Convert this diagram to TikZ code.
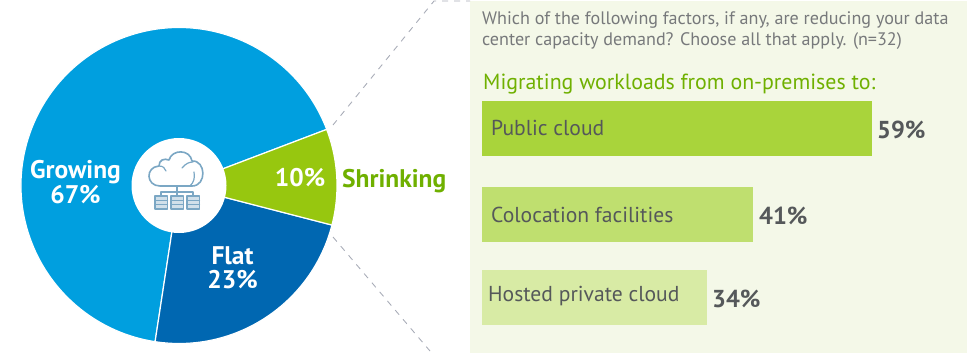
\documentclass[tikz,border=0pt]{standalone}
\usepackage{fontspec}
\setmainfont{PT Sans}
\definecolor{growblue}{HTML}{009FDF}
\definecolor{flatblue}{HTML}{0067B1}
\definecolor{shrinkgreen}{HTML}{97C70F}
\definecolor{panelbg}{HTML}{F4F8E8}
\definecolor{barA}{HTML}{A9D43B}
\definecolor{barB}{HTML}{BFDF6F}
\definecolor{barC}{HTML}{D8EBA5}
\definecolor{greytext}{HTML}{77797B}
\definecolor{darktext}{HTML}{55585A}
\definecolor{headgreen}{HTML}{6FB000}
\definecolor{iconblue}{HTML}{7BA7C4}
\definecolor{dashgrey}{HTML}{A9ADB8}
\tikzset{
  slice/.style={draw=white,line width=1.2pt},
  pielabel/.style={text=white,font=\fontsize{25.5}{24}\selectfont\bfseries,inner sep=0pt},
  barbox/.style={inner sep=0pt,anchor=north west},
  barlabel/.style={text=darktext,font=\fontsize{21.6}{24}\selectfont,anchor=west,inner sep=0pt},
  barvalue/.style={text=darktext,font=\fontsize{24.5}{26}\selectfont\bfseries,anchor=west,inner sep=0pt},
  zoomline/.style={draw=dashgrey,line width=0.9pt,dash pattern=on 6pt off 6pt},
  icon/.style={draw=iconblue,line width=1.6pt,line cap=round,line join=round}
}
\begin{document}
\begin{tikzpicture}[x=1pt,y=-1pt]
\useasboundingbox (0,0) rectangle (967,354);
\node[barbox,fill=panelbg,minimum width=497pt,minimum height=352pt] (panel) at (470,1) {};
% pie
\coordinate (c) at (179,185.5);
\begin{scope}[shift={(c)},x=1pt,y=1pt]
\draw[slice,fill=growblue] (0,0) -- (20.8:158) arc[start angle=20.8,end angle=261.3,radius=158] -- cycle;
\draw[slice,fill=flatblue] (0,0) -- (-98.7:158) arc[start angle=-98.7,end angle=-14.5,radius=158] -- cycle;
\draw[slice,fill=shrinkgreen] (0,0) -- (-14.5:158) arc[start angle=-14.5,end angle=20.8,radius=158] -- cycle;
\fill[white] (0,0) circle[radius=47.5];
\end{scope}
% icon
\draw[icon] (160,186) .. controls (146,186) and (145,167) .. (159,166)
  .. controls (159,160) and (164,158) .. (169,160)
  .. controls (172,149) and (190,149) .. (192,161)
  .. controls (206,160) and (207,186) .. (192,186) -- (160,186);
\draw[icon,line width=1.2pt] (159,166) .. controls (163,166) and (165,168) .. (166,171);
\draw[icon,line width=1.2pt] (182,168) .. controls (186,163) and (190,162) .. (193,162);
\draw[icon,line width=1.2pt] (194,172) .. controls (195,178) and (194,182) .. (190,186);
\draw[icon,line width=1.2pt] (177,186) -- (177,192) (161,196) -- (161,192) -- (193,192) -- (193,196) (177,192) -- (177,196);
\foreach \x in {155,171,187}{
  \draw[icon,line width=1.2pt,fill=iconblue!35] (\x,196) rectangle +(12.5,13);
  \draw[icon,line width=1.2pt] (\x,200.3) -- +(12.5,0) (\x,204.6) -- +(12.5,0);
}
% pie labels
\node[pielabel,anchor=base] (growing) at (75.5,178) {Growing};
\node[pielabel,anchor=base] (growpct) at (75.5,203) {67\%};
\node[pielabel,anchor=base] (flat) at (232.5,264) {Flat};
\node[pielabel,anchor=base] (flatpct) at (232.5,288) {23\%};
\node[pielabel,anchor=base] (pct) at (300,186) {10\%};
\node[pielabel,text=headgreen,anchor=base west] (shrink) at (342,187) {Shrinking};
% zoom lines
\coordinate (za) at (333,125);
\coordinate (zb) at (434,1);
\coordinate (zc) at (470,1);
\coordinate (zd) at (333,237);
\coordinate (ze) at (430,351);
\draw[zoomline] (za) -- (zb) -- (zc);
\draw[zoomline] (zd) -- (ze);
% right panel
\node[anchor=north west,inner sep=0pt,text=greytext,font=\fontsize{18.1}{21}\selectfont,align=left] (q) at (482,11) {Which of the following factors, if any, are reducing your data\\center capacity demand? Choose all that apply. (n=32)};
\node[anchor=west,inner sep=0pt,text=headgreen,font=\fontsize{21.9}{24}\selectfont] (head) at (483,84) {Migrating workloads from on-premises to:};
\node[barbox,fill=barA,minimum width=390pt,minimum height=55pt] (b1) at (482,101) {};
\node[barbox,fill=barB,minimum width=271pt,minimum height=55pt] (b2) at (482,187) {};
\node[barbox,fill=barC,minimum width=225pt,minimum height=55pt] (b3) at (482,270) {};
\node[barlabel] (l1) at (491,128) {Public cloud};
\node[barlabel] (l2) at (491,215) {Colocation facilities};
\node[barlabel] (l3) at (488,296) {Hosted private cloud};
\node[barvalue] (v1) at (877,130) {59\%};
\node[barvalue] (v2) at (759,216) {41\%};
\node[barvalue] (v3) at (712,299) {34\%};
\end{tikzpicture}
\end{document}
